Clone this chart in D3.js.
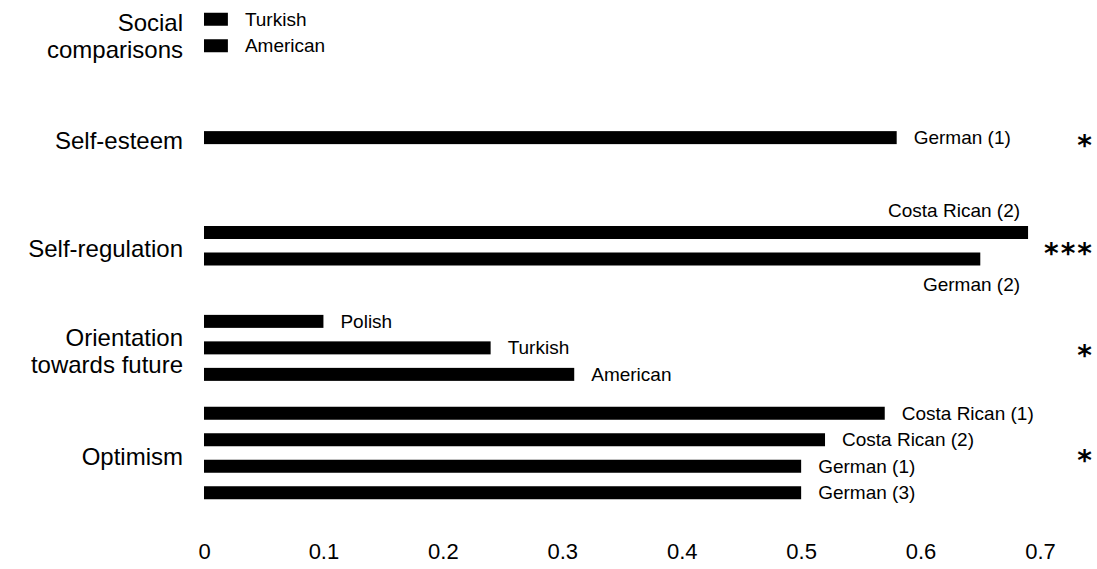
<!DOCTYPE html>
<html>
<head>
<meta charset="utf-8">
<script src="https://cdn.jsdelivr.net/npm/d3@7"></script>
<style>
  body { margin: 0; background: #fff; }
  text { font-family: "Liberation Sans", Arial, sans-serif; fill: #000; }
</style>
</head>
<body>
<svg id="chart" width="1097" height="569"></svg>
<script>
// Groups (top to bottom) and their row labels
const groups = ['Social comparisons', 'Self-esteem', 'Self-regulation', 'Orientation towards future', 'Optimism'];
const groupLines = [['Social', 'comparisons'], ['Self-esteem'], ['Self-regulation'], ['Orientation', 'towards future'], ['Optimism']];
const significance = ['', '*', '***', '*', '*'];

// Samples per group and their values
const samples = [
  ['Turkish', 'American'],
  ['German (1)'],
  ['Costa Rican (2)', 'German (2)'],
  ['Polish', 'Turkish', 'American'],
  ['Costa Rican (1)', 'Costa Rican (2)', 'German (1)', 'German (3)']
];
const values = [
  [0.02, 0.02],
  [0.58],
  [0.69, 0.65],
  [0.10, 0.24, 0.31],
  [0.57, 0.52, 0.50, 0.50]
];

const tickValues = [0, 0.1, 0.2, 0.3, 0.4, 0.5, 0.6, 0.7];

const svg = d3.select('#chart');

// Scales
const x = d3.scaleLinear().domain([0, 0.7]).range([204, 1040]);
const y = d3.scalePoint().domain(groups).range([32.5, 453]);
const rowStep = 26.5;
const barHeight = 13;

// Flatten bars with their row position inside the group
const bars = [];
groups.forEach((g, gi) => {
  const n = samples[gi].length;
  samples[gi].forEach((s, i) => {
    bars.push({ group: g, gi, i, n, name: s, value: values[gi][i] });
  });
});
// self-regulation block sits a little lower in the original
const groupY = g => y(g) + (g === 'Self-regulation' ? 3 : 0);
const barY = d => groupY(d.group) + (d.i - (d.n - 1) / 2) * rowStep;

// Bars
svg.append('g').selectAll('rect').data(bars).enter()
  .append('rect')
    .attr('x', x(0))
    .attr('y', d => barY(d) - barHeight / 2)
    .attr('width', d => x(d.value) - x(0))
    .attr('height', barHeight)
    .attr('fill', '#000');

// Bar labels: next to the bar end, except self-regulation (above / below)
const outside = 'Self-regulation';
svg.append('g').selectAll('text').data(bars).enter()
  .append('text')
    .attr('font-size', 19)
    .attr('dominant-baseline', 'central')
    .attr('text-anchor', d => d.group === outside ? 'end' : 'start')
    .attr('x', d => {
      if (d.group === outside) return x(d3.max(values[d.gi])) - 8;
      return x(d.value) + 17;
    })
    .attr('y', d => {
      if (d.group === outside) return barY(d) + (d.i === 0 ? -22 : 25);
      return barY(d);
    })
    .text(d => d.name);

// Group labels
const labelG = svg.append('g');
groups.forEach((g, gi) => {
  const lines = groupLines[gi];
  const lh = 27;
  lines.forEach((line, li) => {
    labelG.append('text')
      .attr('x', 183)
      .attr('y', groupY(g) + 3 + (li - (lines.length - 1) / 2) * lh)
      .attr('text-anchor', 'end')
      .attr('dominant-baseline', 'central')
      .attr('font-size', 24)
      .text(line);
  });
});

// Significance stars
svg.append('g').selectAll('text').data(groups).enter()
  .append('text')
    .attr('x', 1094)
    .attr('y', d => groupY(d) + 17)
    .attr('text-anchor', 'end')
    .attr('font-size', 28)
    .attr('font-weight', 'bold')
    .attr('letter-spacing', 2)
    .style('font-family', '"DejaVu Sans", sans-serif')
    .text((d, i) => significance[i]);

// X axis (labels only)
const axis = d3.axisBottom(x)
  .tickValues(tickValues)
  .tickSize(0)
  .tickPadding(0)
  .tickFormat(d => d === 0 ? '0' : d3.format('.1f')(d));
const axisG = svg.append('g')
  .attr('transform', 'translate(0,543)')
  .call(axis);
axisG.select('.domain').remove();
axisG.selectAll('text')
  .attr('font-size', 22)
  .style('font-family', '"Liberation Sans", Arial, sans-serif')
  .attr('fill', '#000');
</script>
</body>
</html>
